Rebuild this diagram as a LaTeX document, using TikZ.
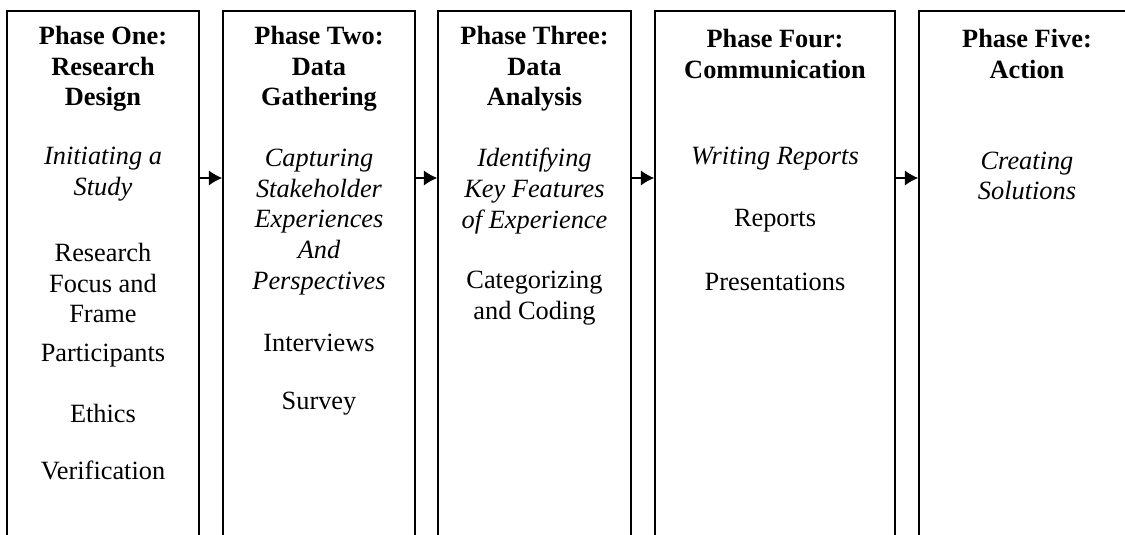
\documentclass[tikz,border=0pt]{standalone}
\usepackage{fontspec}
\setmainfont{Liberation Serif}
\usetikzlibrary{arrows.meta}

\begin{document}
\begin{tikzpicture}[x=0.02cm,y=0.02cm,
        txt/.style={align=center,font=\fontsize{15}{17.4}\selectfont},
        head/.style={txt,font=\fontsize{15}{17.4}\selectfont\bfseries},
        sub/.style={txt,font=\fontsize{15}{17.4}\selectfont\itshape},
        phase/.style={draw,line width=1pt,anchor=north,minimum height=12cm,inner sep=0pt},
        flow/.style={-{Latex[length=7.5pt,width=8.5pt]},line width=0.6pt}]
        \clip (0,0) rectangle (1125,534);
        % the five columns, running off the foot of the page
        \node[phase,minimum width=3.84cm] (p1) at (103,524) {};
        \node[phase,minimum width=3.84cm] (p2) at (319,524) {};
        \node[phase,minimum width=3.86cm] (p3) at (534.5,524) {};
        \node[phase,minimum width=4.8cm] (p4) at (775,524) {};
        \node[phase,minimum width=4.32cm] (p5) at (1027,524) {};
        % arrows from one phase to the next
        \coordinate (lvl) at (0,356);
        \draw[flow] (p1.east |- lvl) -- (p2.west |- lvl);
        \draw[flow] (p2.east |- lvl) -- (p3.west |- lvl);
        \draw[flow] (p3.east |- lvl) -- (p4.west |- lvl);
        \draw[flow] (p4.east |- lvl) -- (p5.west |- lvl);
        % phase one
        \node[head] (t1) at (103,465) {Phase One:\\Research\\Design};
        \node[sub] (s1) at (103,360) {Initiating a\\Study};
        \node[txt] (a1) at (103,251) {Research\\Focus and\\Frame};
        \node[txt] (b1) at (103,178) {Participants};
        \node[txt] (c1) at (103,121) {Ethics};
        \node[txt] (d1) at (103,64) {Verification};
        % phase two
        \node[head] (t2) at (319,465) {Phase Two:\\Data\\Gathering};
        \node[sub] (s2) at (319,312) {Capturing\\Stakeholder\\Experiences\\And\\Perspectives};
        \node[txt] (a2) at (319,191) {Interviews};
        \node[txt] (b2) at (319,130) {Survey};
        % phase three
        \node[head] (t3) at (534.5,465) {Phase Three:\\Data\\Analysis};
        \node[sub] (s3) at (534.5,343) {Identifying\\Key Features\\of Experience};
        \node[txt] (a3) at (534.5,236) {Categorizing\\and Coding};
        % phase four
        \node[head] (t4) at (775,480) {Phase Four:\\Communication};
        \node[sub] (s4) at (775,375) {Writing Reports};
        \node[txt] (a4) at (775,313) {Reports};
        \node[txt] (b4) at (775,252) {Presentations};
        % phase five
        \node[head] (t5) at (1027,480) {Phase Five:\\Action};
        \node[sub] (s5) at (1027,358) {Creating\\Solutions};
\end{tikzpicture}
\end{document}
